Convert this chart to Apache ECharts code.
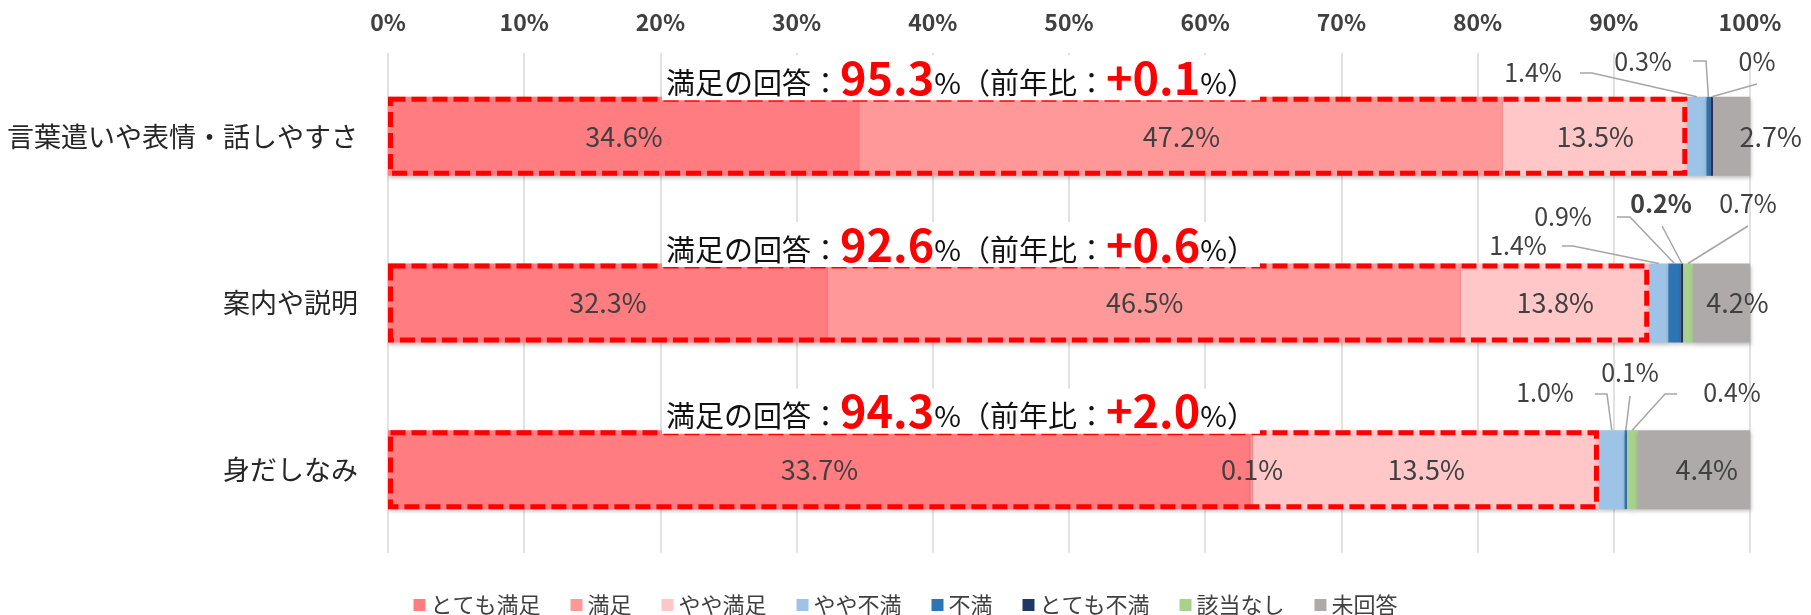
<!DOCTYPE html>
<html lang="ja">
<head>
<meta charset="utf-8">
<title>満足度</title>
<script src="https://cdn.jsdelivr.net/npm/echarts@6/dist/echarts.min.js"></script>
<style>
  html, body { margin: 0; padding: 0; background: #fff; }
  #chart { width: 1811px; height: 615px; }
</style>
</head>
<body>
<div id="chart"></div>
<script>
const categories = ['言葉遣いや表情・話しやすさ', '案内や説明', '身だしなみ']
const seriesNames = ['とても満足', '満足', 'やや満足', 'やや不満', '不満', 'とても不満', '該当なし', '未回答']

// raw answer shares (%), per row; bars are drawn as a 100% stack of these
const verySatisfied = [34.6, 32.3, 33.7]
const satisfied = [47.2, 46.5, 0.1]
const somewhatSatisfied = [13.5, 13.8, 13.5]
const somewhatDissatisfied = [1.4, 1.4, 1.0]
const dissatisfied = [0.3, 0.9, 0.1]
const veryDissatisfied = [0.2, 0.2, 0]
const notApplicable = [0, 0.7, 0.4]
const noAnswer = [2.7, 4.2, 4.4]
const veryDissatisfiedText = ['0%', '0.2%', '']

const satisfiedRate = ['95.3', '92.6', '94.3']
const yoyChange = ['+0.1', '+0.6', '+2.0']

const COLORS = ['#FF7C80', '#FF9999', '#FFC7C7', '#9DC3E6', '#2E75B6', '#203864', '#A9D18E', '#AEAAAA']
const FONT = "'Noto Sans CJK JP', 'Noto Sans', sans-serif"
const BAR_W = 79

const rawRows = [verySatisfied, satisfied, somewhatSatisfied, somewhatDissatisfied,
  dissatisfied, veryDissatisfied, notApplicable, noAnswer]
const totals = categories.map((_, r) => rawRows.reduce((s, arr) => s + arr[r], 0))
const pct = rawRows.map(arr => arr.map((v, r) => v / totals[r] * 100))
const labelText = rawRows.map(arr => arr.map(v => (v > 0 ? v.toFixed(1) + '%' : '')))
labelText[5] = veryDissatisfiedText

// end of the three "satisfied" segments -> dashed box
const boxEnd = categories.map((_, r) => pct[0][r] + pct[1][r] + pct[2][r])

// small segments get callout labels with leader lines
const callouts = [
  { s: 3, r: 0, tx: 1533, ty: 72, pts: [[1592, 73], [1580, 73]] },
  { s: 4, r: 0, tx: 1643, ty: 61, pts: [[1706, 61], [1693, 61]] },
  { s: 5, r: 0, tx: 1757, ty: 61, pts: [[1757, 84]] },
  { s: 3, r: 1, tx: 1518, ty: 245, pts: [[1573, 246], [1562, 246]] },
  { s: 4, r: 1, tx: 1563, ty: 216, pts: [[1630, 217], [1617, 217]] },
  { s: 5, r: 1, tx: 1661, ty: 203, pts: [[1662, 226]], bold: true },
  { s: 6, r: 1, tx: 1748, ty: 203, pts: [[1748, 226]] },
  { s: 3, r: 2, tx: 1545, ty: 392, pts: [[1607, 394], [1595, 394]] },
  { s: 4, r: 2, tx: 1630, ty: 372, pts: [[1630, 396]] },
  { s: 6, r: 2, tx: 1732, ty: 392, pts: [[1665, 394], [1677, 394]] },
]
const calloutData = callouts.map(c => {
  let start = 0
  for (let i = 0; i < c.s; i++) start += pct[i][c.r]
  return [start + pct[c.s][c.r] / 2, c.r]
})
const noAnswerShift = [39, 16, 13]

const chart = echarts.init(document.getElementById('chart'), null, { renderer: 'canvas' })

const stackSeries = seriesNames.map((name, i) => ({
  name,
  type: 'bar',
  stack: 'total',
  barWidth: BAR_W,
  silent: true,
  itemStyle: {
    color: COLORS[i],
    shadowColor: 'rgba(0,0,0,0.25)',
    shadowBlur: 4,
    shadowOffsetX: 1,
    shadowOffsetY: 2,
  },
  label: {
    show: i < 3 || i === 7,
    position: 'inside',
    formatter: p => labelText[i][p.dataIndex],
    fontFamily: FONT,
    fontSize: 27,
    color: '#404040',
  },
  labelLayout: i === 7 ? (p => ({ dx: noAnswerShift[p.dataIndex] })) : undefined,
  data: pct[i],
}))

chart.setOption({
  animation: false,
  textStyle: { fontFamily: FONT },
  grid: { left: 388, right: 61, top: 53, bottom: 62, containLabel: false },
  legend: {
    data: seriesNames,
    top: 589,
    left: 'center',
    icon: 'rect',
    itemWidth: 12,
    itemHeight: 12,
    itemGap: 30,
    textStyle: { fontFamily: FONT, fontSize: 22, color: '#404040' },
  },
  xAxis: {
    type: 'value',
    position: 'top',
    min: 0,
    max: 100,
    interval: 10,
    axisLine: { show: false },
    axisTick: { show: false },
    axisLabel: {
      formatter: '{value}%',
      fontFamily: FONT,
      fontSize: 23,
      fontWeight: 'bold',
      color: '#404040',
      margin: 19,
    },
    splitLine: { lineStyle: { color: '#D9D9D9', width: 1.5 } },
  },
  yAxis: {
    type: 'category',
    data: categories,
    inverse: true,
    axisLine: { show: false },
    axisTick: { show: false },
    axisLabel: { fontFamily: FONT, fontSize: 27, color: '#262626', margin: 30 },
  },
  series: [
    ...stackSeries,
    {
      name: '満足の回答',
      type: 'bar',
      barWidth: BAR_W,
      barGap: '-100%',
      z: 4,
      silent: true,
      itemStyle: {
        color: 'rgba(0,0,0,0)',
        borderColor: '#FF0000',
        borderWidth: 5,
        borderType: [15, 6],
      },
      label: {
        show: true,
        formatter: p => `{t|満足の回答：}{n|${satisfiedRate[p.dataIndex]}}{t|%（前年比：}{n|${yoyChange[p.dataIndex]}}{t|%）}`,
        backgroundColor: '#fff',
        padding: [0, 4],
        rich: {
          t: { fontFamily: FONT, fontSize: 29, color: '#111', verticalAlign: 'bottom', padding: [0, 0, 3, 0] },
          n: { fontFamily: FONT, fontSize: 45, fontWeight: 'bold', color: '#FF0000', verticalAlign: 'bottom' },
        },
      },
      labelLayout: p => ({ x: 662, y: p.rect.y - 19, align: 'left', verticalAlign: 'middle' }),
      data: boxEnd,
    },
    {
      name: 'callouts',
      type: 'custom',
      silent: true,
      z: 5,
      encode: { x: 0, y: 1 },
      data: calloutData,
      renderItem: (params, api) => {
        const c = callouts[params.dataIndex]
        const p = api.coord([api.value(0), api.value(1)])
        const top = p[1] - BAR_W / 2
        return {
          type: 'group',
          children: [
            {
              type: 'polyline',
              shape: { points: [[p[0], top], ...c.pts] },
              style: { stroke: '#A6A6A6', lineWidth: 1.5, fill: 'none' },
            },
            {
              type: 'text',
              x: c.tx,
              y: c.ty,
              style: {
                text: labelText[c.s][c.r],
                fontFamily: FONT,
                fontSize: 25,
                fontWeight: c.bold ? 'bold' : 'normal',
                fill: '#404040',
                align: 'center',
                verticalAlign: 'middle',
              },
            },
          ],
        }
      },
    },
  ],
})
</script>
</body>
</html>
